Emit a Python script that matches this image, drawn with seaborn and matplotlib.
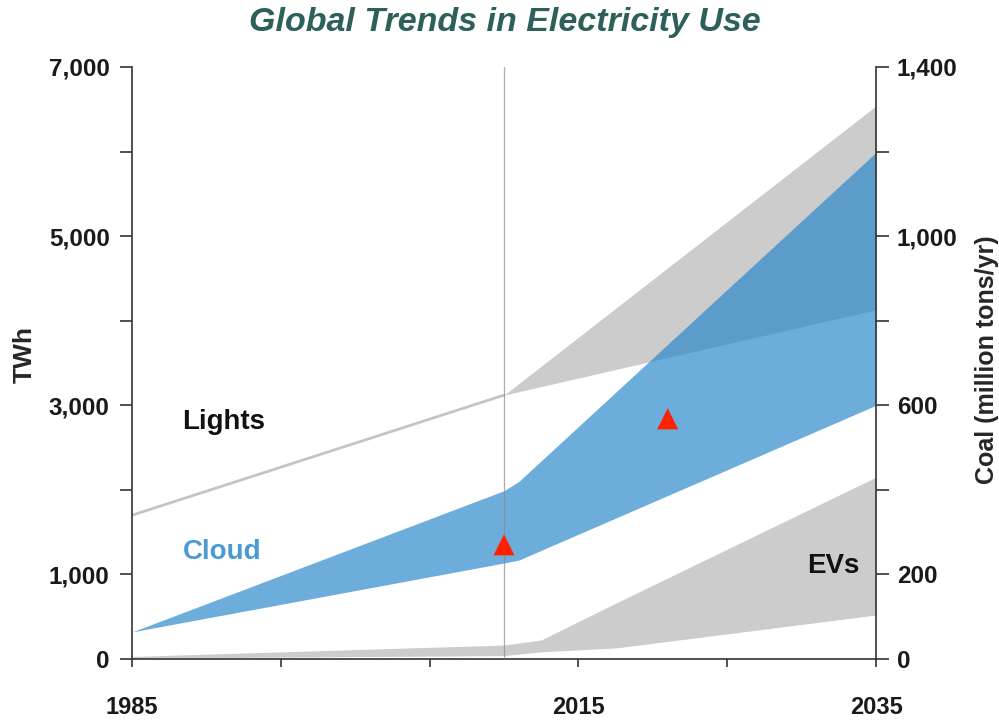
import matplotlib
matplotlib.use("Agg")
import matplotlib.pyplot as plt
import seaborn as sns
import pandas as pd

# values (TWh)
lights_years = [1985, 2010, 2035]
lights_low = [1700, 3120, 4130]
lights_high = [1700, 3120, 6540]

cloud_years = [1985, 2010, 2011, 2035]
cloud_low = [320, 1135, 1170, 3000]
cloud_high = [320, 1990, 2100, 5990]

ev_years = [1985, 2010, 2012.5, 2017.5, 2035]
ev_low = [10, 40, 85, 130, 520]
ev_high = [30, 165, 225, 660, 2150]

marker_years = [2010, 2021]
marker_twh = [1350, 2840]

x_ticks = [1985, 1995, 2005, 2015, 2025, 2035]
x_labels = ['1985', '', '', '2015', '', '2035']
left_ticks = [0, 1000, 2000, 3000, 4000, 5000, 6000, 7000]
left_labels = ['0', '1,000', '', '3,000', '', '5,000', '', '7,000']
right_ticks = [0, 200, 400, 600, 800, 1000, 1200, 1400]
right_labels = ['0', '200', '', '600', '', '1,000', '', '1,400']

sns.set_style("ticks")
plt.rcParams['font.family'] = ['Liberation Sans', 'DejaVu Sans']
plt.rcParams['font.weight'] = 'bold'

gray = '#cccccc'
blue = '#2485c9'

fig = plt.figure(figsize=(9.99, 7.21), dpi=100)
ax = fig.add_axes([0.1321, 0.0860, 0.7448, 0.8211])

# Lights: thin line up to 2010, then a widening band
ax.fill_between(lights_years, lights_low, lights_high, color=gray, lw=0, zorder=1)
lights_df = pd.DataFrame({'year': lights_years[:2], 'twh': lights_low[:2]})
sns.lineplot(data=lights_df, x='year', y='twh', ax=ax, color='#c4c4c4', lw=2, zorder=1)

# EVs band
ax.fill_between(ev_years, ev_low, ev_high, color=gray, lw=0, zorder=1)

# Cloud band (semi-transparent so the overlap with Lights gets darker)
ax.fill_between(cloud_years, cloud_low, cloud_high, color=blue, alpha=0.667, lw=0, zorder=2)

ax.axvline(2010, color='#8a8a8a', lw=0.9, alpha=0.7, zorder=5)

marker_df = pd.DataFrame({'year': marker_years, 'twh': marker_twh})
sns.scatterplot(data=marker_df, x='year', y='twh', ax=ax, marker='^', s=230,
                color='#ff2200', edgecolor='none', zorder=6)

ax.text(1988.4, 2800, 'Lights', fontsize=20, fontweight='bold', color='#111111', va='center')
ax.text(1988.4, 1265, 'Cloud', fontsize=20, fontweight='bold', color='#4a9ad4', va='center')
ax.text(2030.4, 1100, 'EVs', fontsize=20, fontweight='bold', color='#111111', va='center')

ax.set_xlim(1985, 2035)
ax.set_ylim(0, 7000)
ax.set_xticks(x_ticks)
ax.set_xticklabels(x_labels)
ax.set_yticks(left_ticks)
ax.set_yticklabels(left_labels)
ax.set_xlabel('')
ax.set_ylabel('TWh', fontsize=19, fontweight='bold')
ax.yaxis.set_label_coords(-0.128, 0.515)

ax2 = ax.twinx()
ax2.set_ylim(0, 1400)
ax2.set_yticks(right_ticks)
ax2.set_yticklabels(right_labels)
ax2.set_ylabel('Coal (million tons/yr)', fontsize=18, fontweight='bold')
ax2.yaxis.set_label_coords(1.133, 0.505)

for a in (ax, ax2):
    a.spines['top'].set_visible(False)
    for s in a.spines.values():
        s.set_color('#333333')
        s.set_linewidth(1.2)
ax.spines['right'].set_visible(False)
ax2.spines['left'].set_visible(False)
ax2.spines['bottom'].set_visible(False)

ax.tick_params(axis='x', length=6, width=1.2, color='#333333', labelsize=17, pad=21)
ax.tick_params(axis='y', length=9, width=1.2, color='#333333', labelsize=17.5, pad=7)
ax2.tick_params(axis='y', length=9, width=1.2, color='#333333', labelsize=17.5, pad=6)
for lab in ax.get_xticklabels() + ax.get_yticklabels() + ax2.get_yticklabels():
    lab.set_fontweight('bold')
    lab.set_color('#1a1a1a')

fig.text(0.505, 1 - 23 / 721, 'Global Trends in Electricity Use', fontsize=24.5,
         fontweight='bold', fontstyle='italic', color='#2d5f5b', ha='center', va='center')

fig.savefig('out.png', dpi=100)
